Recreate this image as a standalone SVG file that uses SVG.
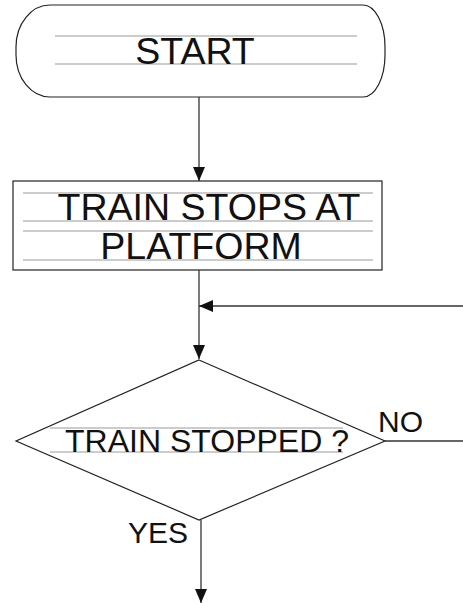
<svg xmlns="http://www.w3.org/2000/svg" width="463" height="604" viewBox="0 0 463 604">
<style>
.shape{fill:#fff;stroke:#222;stroke-width:1.2}
.guide{stroke:#999;stroke-width:1}
.conn{stroke:#333;stroke-width:1.3;fill:none}
text{font-family:"Liberation Sans",Arial,sans-serif;fill:#111}
</style>
<defs>
<marker id="ah" viewBox="0 0 14 12" refX="14" refY="6" markerWidth="14" markerHeight="12" markerUnits="userSpaceOnUse" orient="auto">
<path d="M0,0 L14,6 L0,12 Z" fill="#111"/>
</marker>
</defs>
<g id="start">
<path class="shape" d="M50,5 H363 A22,42 0 0 1 385,47 V55 A22,42 0 0 1 363,97 H50 A34,42 0 0 1 16,55 V47 A34,42 0 0 1 50,5 Z"/>
<line class="guide" x1="55" y1="36" x2="357" y2="36"/>
<line class="guide" x1="55" y1="64" x2="357" y2="64"/>
<text x="195" y="64" font-size="37.5" text-anchor="middle">START</text>
</g>
<g id="train-stops">
<rect class="shape" x="13" y="181" width="369" height="89"/>
<line class="guide" x1="23" y1="193" x2="373" y2="193"/>
<line class="guide" x1="23" y1="221" x2="373" y2="221"/>
<line class="guide" x1="23" y1="231" x2="373" y2="231"/>
<line class="guide" x1="23" y1="260" x2="373" y2="260"/>
<text x="209" y="220" font-size="37.5" text-anchor="middle">TRAIN STOPS AT</text>
<text x="201" y="259" font-size="37.5" text-anchor="middle">PLATFORM</text>
</g>
<g id="decision">
<polygon class="shape" points="199,360 385,441 199,520 16,441"/>
<line class="guide" x1="50" y1="428" x2="343" y2="428"/>
<line class="guide" x1="50" y1="452" x2="343" y2="452"/>
<text x="207" y="452" font-size="32" text-anchor="middle">TRAIN STOPPED ?</text>
</g>
<g id="connectors">
<line class="conn" x1="199" y1="97" x2="199" y2="181" marker-end="url(#ah)"/>
<line class="conn" x1="199" y1="270" x2="199" y2="359" marker-end="url(#ah)"/>
<line class="conn" x1="463" y1="306" x2="199" y2="306" marker-end="url(#ah)"/>
<line class="conn" x1="385" y1="441" x2="463" y2="441"/>
<line class="conn" x1="201" y1="520" x2="201" y2="603" marker-end="url(#ah)"/>
<text x="378" y="432" font-size="30">NO</text>
<text x="128" y="543" font-size="30">YES</text>
</g>
</svg>
